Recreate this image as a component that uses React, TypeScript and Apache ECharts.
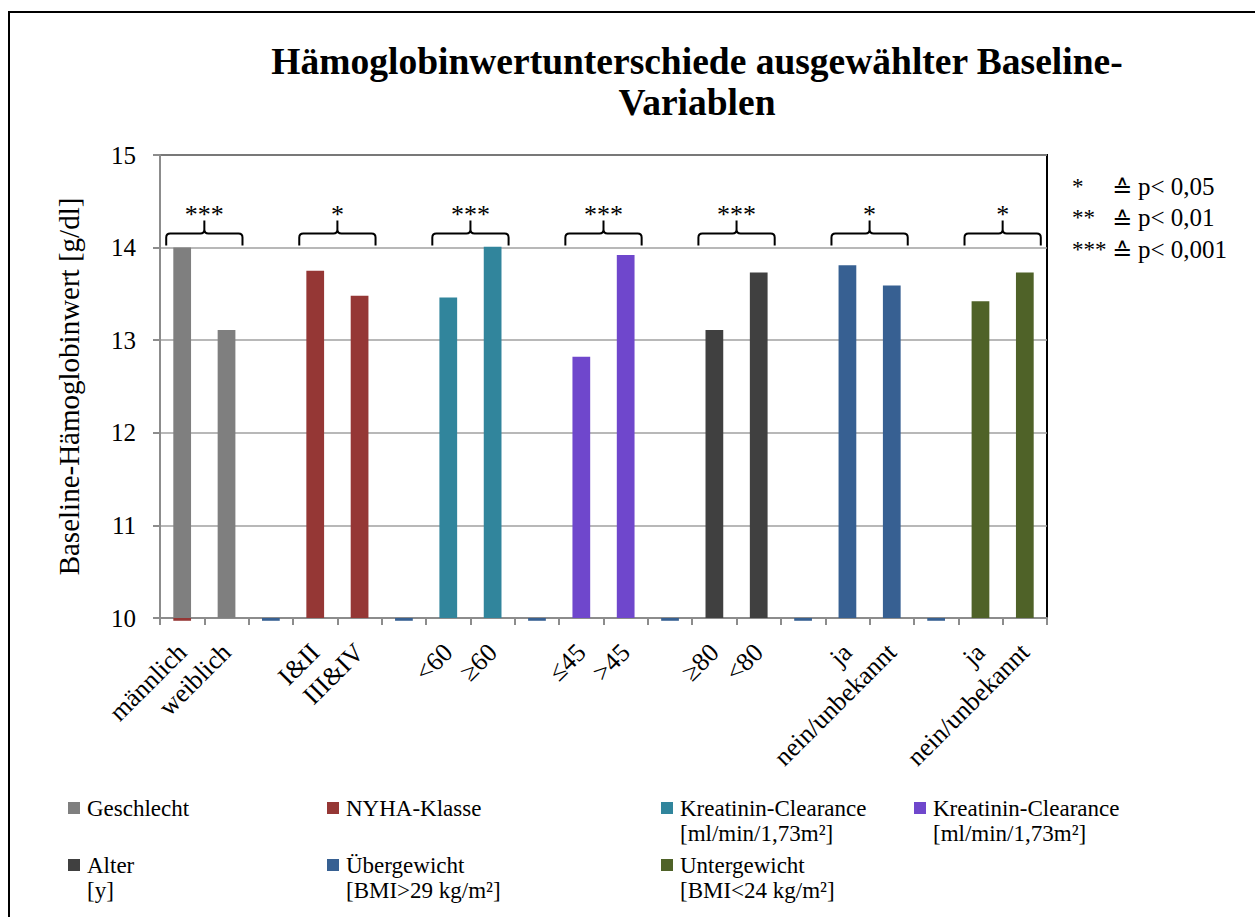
import React, { useEffect, useRef } from 'react';
import * as echarts from 'echarts';

const categories = ['männlich', 'weiblich', '', 'I&II', 'III&IV', '', '<60', '≥60', '', '≤45', '>45', '', '≥80', '<80', '', 'ja', 'nein/unbekannt', '', 'ja', 'nein/unbekannt'];

const seriesNames = ['Geschlecht', 'NYHA-Klasse', 'Kreatinin-Clearance 60', 'Kreatinin-Clearance 45', 'Alter', 'Übergewicht', 'Untergewicht'];
const legendFirstLines = ['Geschlecht', 'NYHA-Klasse', 'Kreatinin-Clearance', 'Kreatinin-Clearance', 'Alter', 'Übergewicht', 'Untergewicht'];
const legendSecondLines = ['', '', '[ml/min/1,73m²]', '[ml/min/1,73m²]', '[y]', '[BMI>29 kg/m²]', '[BMI<24 kg/m²]'];
const seriesColors = ['#7F7F7F', '#953735', '#31859C', '#6F47CC', '#404040', '#376092', '#4F6228'];

const groupStart = [0, 3, 6, 9, 12, 15, 18];
const geschlechtValues = [14.0, 13.11];
const nyhaValues = [13.75, 13.48];
const kreaClear60Values = [13.46, 14.01];
const kreaClear45Values = [12.82, 13.92];
const alterValues = [13.11, 13.73];
const uebergewichtValues = [13.81, 13.59];
const untergewichtValues = [13.42, 13.73];
const groupValues = [geschlechtValues, nyhaValues, kreaClear60Values, kreaClear45Values, alterValues, uebergewichtValues, untergewichtValues];

const significance = ['***', '*', '***', '***', '***', '*', '*'];
const bracketLevel = 14;

const minorCategories = [0, 2, 5, 8, 11, 14, 17];
const minorValues = [9.97, 9.97, 9.97, 9.97, 9.97, 9.97, 9.97];
const minorSeriesIndex = [1, 5, 5, 5, 5, 5, 5];

const pStars = ['*', '**', '***'];
const pTexts = ['p< 0,05', 'p< 0,01', 'p< 0,001'];

const yTicks = { min: 10, max: 15, interval: 1 };

const FONT = '"Liberation Serif", "Times New Roman", serif';

const legendColumns = [[0, 4], [1, 5], [2, 6], [3]];
const legendColumnLeft = [68, 327, 661, 914];

export default function App() {
  const ref = useRef<HTMLDivElement>(null);
  useEffect(() => {
    if (!ref.current) return;
    const chart = echarts.init(ref.current, undefined, { renderer: 'svg' });

    const barSeries = seriesNames.map((name, si) => {
      const data: (number | null)[] = categories.map(() => null);
      groupValues[si].forEach((v, k) => { data[groupStart[si] + k] = v; });
      return {
        name,
        type: 'bar',
        data,
        barWidth: '40%',
        barGap: '-100%',
        itemStyle: { color: seriesColors[si] },
        silent: true,
      };
    });

    const legends = legendColumns.map((items, ci) => ({
      orient: 'vertical',
      left: legendColumnLeft[ci],
      top: 793.5,
      padding: 0,
      itemGap: 28,
      itemWidth: 12,
      itemHeight: 12,
      icon: 'rect',
      selectedMode: false,
      data: items.map((i) => seriesNames[i]),
      formatter: (name: string) => legendFirstLines[seriesNames.indexOf(name)],
      textStyle: { fontFamily: FONT, fontSize: 23, color: '#000', lineHeight: 29, padding: [0, 0, 0, 2] },
    }));

    const legendSecondTexts: any[] = [];
    legendColumns.forEach((items, ci) => {
      items.forEach((i, row) => {
        if (legendSecondLines[i]) {
          legendSecondTexts.push({
            type: 'text',
            left: legendColumnLeft[ci] + 19,
            top: 822 + row * 57,
            style: { text: legendSecondLines[i], font: `23px ${FONT}`, fill: '#000' },
          });
        }
      });
    });

    const pLegend: any[] = [];
    pStars.forEach((s, k) => {
      const yc = 186 + k * 31.5;
      pLegend.push({ type: 'text', x: 1072, y: yc, style: { text: s, font: `23px ${FONT}`, fill: '#000', verticalAlign: 'middle' } });
      pLegend.push({ type: 'text', x: 1112, y: yc + 3, style: { text: '≙', font: `24px "DejaVu Sans"`, fill: '#000', verticalAlign: 'middle' } });
      pLegend.push({ type: 'text', x: 1138, y: yc, style: { text: pTexts[k], font: `25px ${FONT}`, fill: '#000', verticalAlign: 'middle' } });
    });

    chart.setOption({
      animation: false,
      backgroundColor: '#fff',
      title: {
        text: 'Hämoglobinwertunterschiede ausgewählter Baseline-\nVariablen',
        left: 697,
        top: 41,
        padding: 0,
        textAlign: 'center',
        textStyle: { fontFamily: FONT, fontSize: 37.5, fontWeight: 'bold', color: '#000', lineHeight: 41 },
      },
      legend: legends,
      grid: { left: 160, right: 208, top: 155, bottom: 299, show: true, borderColor: '#000', borderWidth: 2, containLabel: false },
      xAxis: {
        type: 'category',
        data: categories,
        boundaryGap: true,
        axisLine: { show: true, lineStyle: { color: '#8C8C8C', width: 2 } },
        axisTick: { show: true, interval: 0, length: 7, lineStyle: { color: '#8C8C8C', width: 2 } },
        axisLabel: { interval: 0, rotate: 45, margin: 30, padding: [12, 0, 0, 0], fontFamily: FONT, fontSize: 26, color: '#000' },
      },
      yAxis: {
        type: 'value',
        min: yTicks.min,
        max: yTicks.max,
        interval: yTicks.interval,
        name: 'Baseline-Hämoglobinwert [g/dl]',
        nameLocation: 'middle',
        nameGap: 77,
        nameTextStyle: { fontFamily: FONT, fontSize: 29, color: '#000' },
        axisLine: { show: true, lineStyle: { color: '#8C8C8C', width: 2 } },
        axisTick: { show: true, length: 7, lineStyle: { color: '#8C8C8C', width: 2 } },
        axisLabel: { margin: 24, fontFamily: FONT, fontSize: 25, color: '#000' },
        splitLine: { show: true, lineStyle: { color: '#A0A0A0', width: 1.5 } },
      },
      graphic: [
        { type: 'rect', z: -10, shape: { x: 9, y: 12, width: 1400, height: 1000 }, style: { fill: 'none', stroke: '#000', lineWidth: 2 } },
        ...pLegend,
        ...legendSecondTexts,
      ],
      series: [
        ...barSeries,
        {
          type: 'custom',
          name: 'minor',
          silent: true,
          clip: false,
          data: minorCategories.map((c, k) => [c, minorValues[k], minorSeriesIndex[k]]),
          encode: { x: 0, y: 1 },
          renderItem: (params: any, api: any) => {
            const c = api.value(0);
            const v = api.value(1);
            const si = api.value(2);
            const p = api.coord([c, yTicks.min]);
            const q = api.coord([c, v]);
            const w = api.size([1, 0])[0] * 0.4;
            return { type: 'rect', shape: { x: p[0] - w / 2, y: p[1], width: w, height: q[1] - p[1] }, style: { fill: seriesColors[si] } };
          },
        },
        {
          type: 'custom',
          name: 'brackets',
          silent: true,
          clip: false,
          z: 5,
          data: groupStart.map((s, k) => [s, bracketLevel, k]),
          encode: { x: 0, y: 1 },
          renderItem: (params: any, api: any) => {
            const s = api.value(0);
            const k = api.value(2);
            const p0 = api.coord([s, bracketLevel]);
            const p1 = api.coord([s + 1, bracketLevel]);
            const cw = api.size([1, 0])[0];
            const xc = (p0[0] + p1[0]) / 2;
            const half = cw * 0.86;
            const x0 = xc - half;
            const x1 = xc + half;
            const yb = p0[1] - 2;
            const yh = yb - 12;
            const pk = yb - 25;
            const r = 4;
            const d = `M${x0} ${yb} L${x0} ${yh + r} Q${x0} ${yh} ${x0 + r} ${yh} L${xc - r} ${yh} Q${xc} ${yh} ${xc} ${yh - r} L${xc} ${pk} M${xc} ${yh - r} Q${xc} ${yh} ${xc + r} ${yh} L${x1 - r} ${yh} Q${x1} ${yh} ${x1} ${yh + r} L${x1} ${yb}`;
            return {
              type: 'group',
              children: [
                { type: 'path', shape: { pathData: d }, style: { fill: 'none', stroke: '#000', lineWidth: 2 } },
                { type: 'text', style: { text: significance[k], x: xc, y: yb - 31, align: 'center', verticalAlign: 'middle', font: `26px ${FONT}`, fill: '#000' } },
              ],
            };
          },
        },
      ],
    });

    return () => chart.dispose();
  }, []);
  return <div ref={ref} style={{ position: 'fixed', left: 0, top: 0, width: 1255, height: 917, background: '#fff' }} />;
}
